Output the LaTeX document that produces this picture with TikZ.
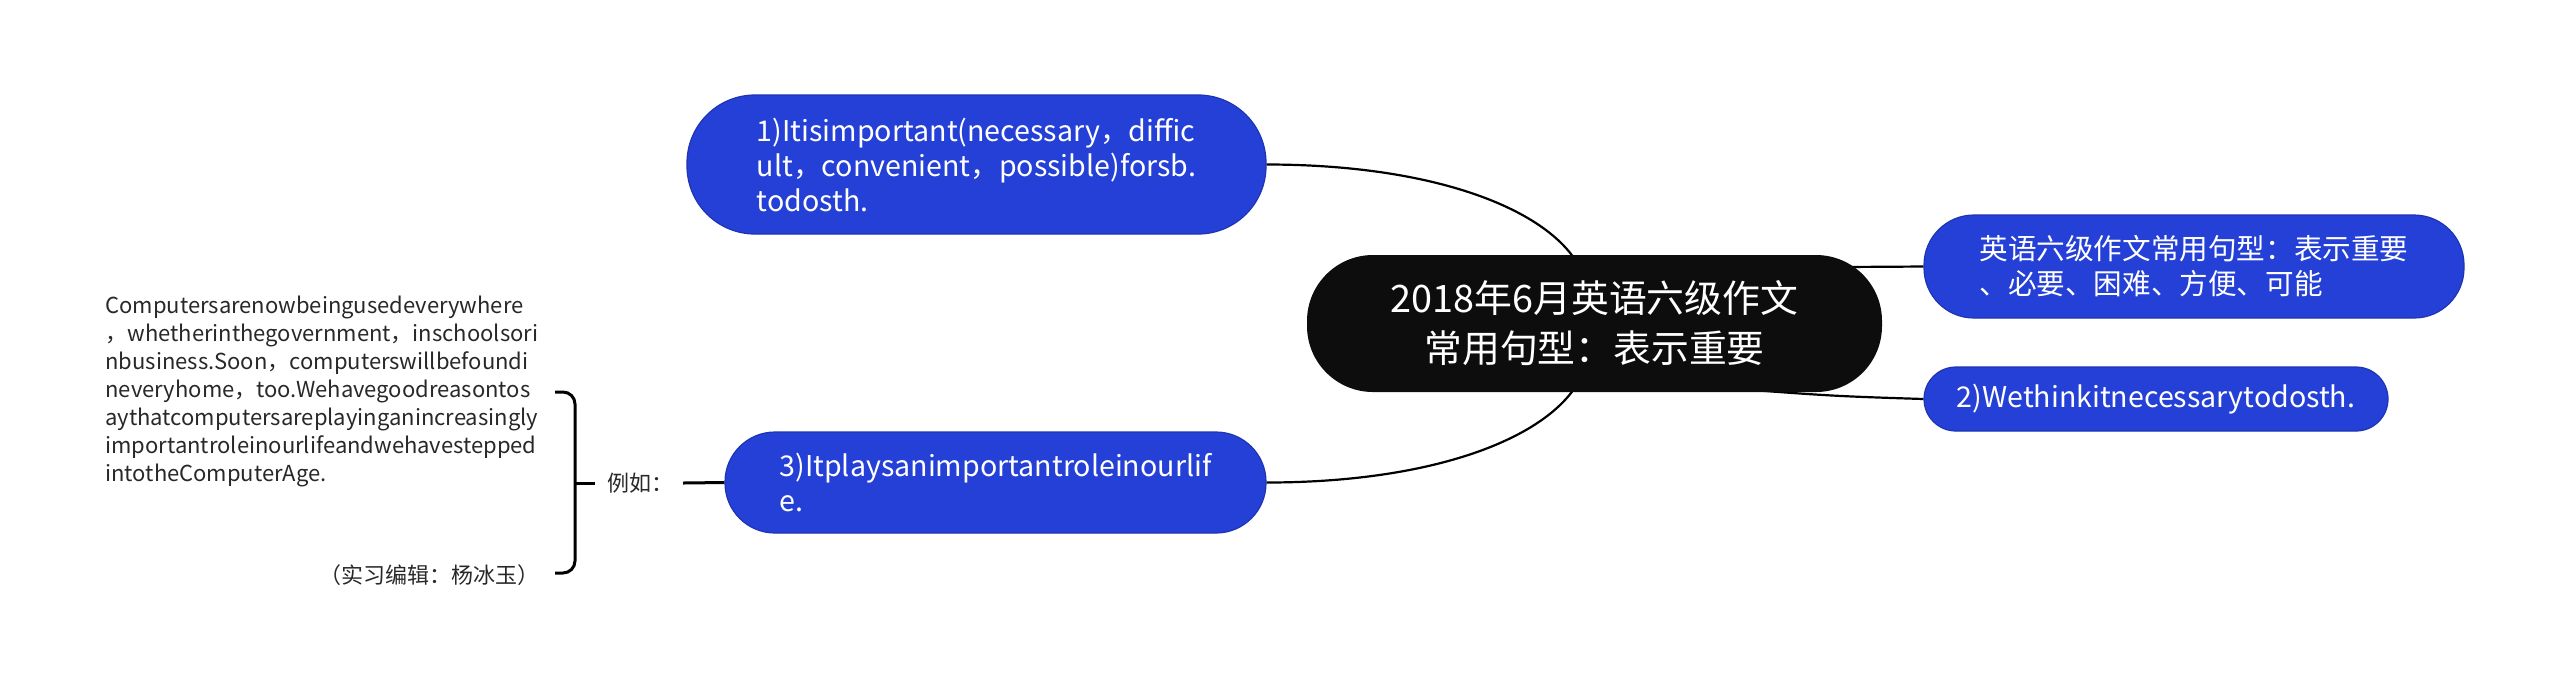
\documentclass[tikz,border=0pt]{standalone}
\usepackage{fontspec}
\setmainfont{Noto Sans CJK SC}
\definecolor{nodeblue}{RGB}{37,64,214}
\definecolor{nodeborder}{RGB}{30,52,180}
\definecolor{rootblack}{RGB}{13,13,13}
\definecolor{txtgray}{RGB}{40,40,40}
\tikzset{
  x=0.5pt, y=-0.5pt,
  bluebox/.style={draw=nodeborder, line width=0.6pt, fill=nodeblue, text=white, align=left,
    inner sep=0pt, font=\fontsize{14.3}{17.5}\selectfont},
  rootbox/.style={fill=rootblack, text=white, align=center, inner sep=0pt,
    font=\fontsize{18.9}{25}\selectfont, minimum width=287.5pt, minimum height=68.5pt,
    rounded corners=33pt},
  conn/.style={draw=black, line width=1.1pt},
  thick conn/.style={draw=black, line width=1.5pt},
  plain/.style={text=txtgray, align=left, inner sep=0pt, font=\fontsize{11}{14}\selectfont},
}
\begin{document}
\begin{tikzpicture}
\useasboundingbox (0,0) rectangle (2560,693);
\coordinate (c1) at (1582,272);
\coordinate (c3) at (1582,375);
\coordinate (cr1) at (1760,267);
\coordinate (cr2) at (1700,386);
\node[bluebox, minimum width=289.5pt, minimum height=69.5pt, rounded corners=34pt] (n1) at (976.5,164.5)
  {1)Itisimportant(necessary，diffic\\ult，convenient，possible)forsb.\\todosth.};
\node[bluebox, minimum width=270.5pt, minimum height=50.5pt, rounded corners=25pt] (n3) at (995.5,482.5)
  {3)Itplaysanimportantroleinourlif\\e.};
\node[bluebox, minimum width=270pt, minimum height=51.5pt, rounded corners=25pt] (r1) at (2194,266.5)
  {英语六级作文常用句型：表示重要\\、必要、困难、方便、可能};
\node[bluebox, minimum width=232pt, minimum height=32pt, rounded corners=16pt] (r2) at (2156,399)
  {2)Wethinkitnecessarytodosth.};
\draw[conn] (n1.east) .. controls (1440,164.5) and (1555,212) .. (c1);
\draw[conn] (n3.east) .. controls (1440,482.5) and (1555,435) .. (c3);
\draw[conn] (cr1) .. controls (1850,267) .. (r1.west);
\draw[conn] (cr2) .. controls (1830,396) .. (r2.west);
\node[rootbox] (root) at (1594.5,323.5) {2018年6月英语六级作文\\常用句型：表示重要};
\node[plain, anchor=north west] (txt) at (105,296)
  {Computersarenowbeingusedeverywhere\\，whetherinthegovernment，inschoolsori\\nbusiness.Soon，computerswillbefoundi\\neveryhome，too.Wehavegoodreasontos\\aythatcomputersareplayinganincreasingly\\importantroleinourlifeandwehavestepped\\intotheComputerAge.};
\node[plain, anchor=east] (editor) at (540,575) {（实习编辑：杨冰玉）};
\node[plain, anchor=west] (eg) at (607,483) {例如：};
\coordinate (bt) at (555,392);
\coordinate (bb) at (555,573);
\coordinate (bm) at (575,483);
\coordinate (bmt) at (595,483);
\coordinate (egl) at (683,483);
\draw[thick conn, rounded corners=6pt] (bt) -- (575,392) -- (575,573) -- (bb);
\draw[thick conn] (bm) -- (bmt);
\draw[thick conn] (egl) -- (n3.west);
\end{tikzpicture}
\end{document}
